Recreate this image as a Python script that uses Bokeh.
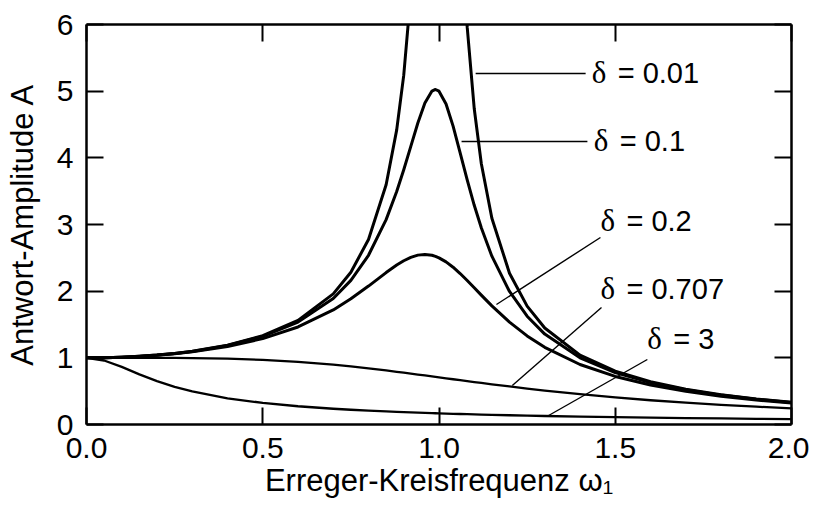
from bokeh.plotting import figure
from bokeh.models import (LinearAxis, FixedTicker, PrintfTickFormatter,
                          ColumnDataSource, Range1d)
from bokeh.core.properties import value
from bokeh.embed import file_html
from bokeh.resources import INLINE

# ---------------- data ----------------
omega = [0, 0.05, 0.1, 0.15, 0.2, 0.25, 0.3, 0.4, 0.5, 0.6, 0.7, 0.75, 0.8, 0.85,
         0.88, 0.9, 0.92, 0.94, 0.96, 0.98, 0.99, 1.0, 1.02, 1.04, 1.06, 1.08,
         1.1, 1.12, 1.15, 1.2, 1.25, 1.3, 1.4, 1.5, 1.6, 1.7, 1.8, 1.9, 2.0]

amp_d001 = [1.0, 1.0025, 1.0101, 1.0230, 1.0417, 1.0667, 1.0989, 1.1905, 1.3333,
            1.5625, 1.9600, 2.2843, 2.775, 3.5967, 4.419, 5.24, 6.46, 8.48, 12.39,
            22.6, 35.6, 50.0, 22.1, 11.87, 7.97, 5.96, 4.736, 3.9158, 3.0928,
            2.2694, 1.7760, 1.4482, 1.0413, 0.7998, 0.6410, 0.5291, 0.4464,
            0.3831, 0.3333]
amp_d01 = [1.0, 1.0025, 1.0099, 1.0225, 1.0408, 1.0652, 1.0965, 1.1851, 1.3216,
           1.5357, 1.8908, 2.1622, 2.5384, 3.0728, 3.4949, 3.8208, 4.1721, 4.5225,
           4.8218, 5.0010, 5.0252, 5.0, 4.8086, 4.4756, 4.0750, 3.6676, 3.2880,
           2.9502, 2.5245, 1.9952, 1.6246, 1.3562, 1.0, 0.7779, 0.6279, 0.5207,
           0.4408, 0.3791, 0.3304]
amp_d02 = [1.0, 1.0023, 1.0093, 1.0211, 1.0381, 1.0607, 1.0895, 1.1695, 1.2883,
           1.4630, 1.7188, 1.8851, 2.0762, 2.2786, 2.3918, 2.4566, 2.5077, 2.5406,
           2.5515, 2.5381, 2.5221, 2.5, 2.4391, 2.3589, 2.2642, 2.1601, 2.0511,
           1.9410, 1.7800, 1.5357, 1.3287, 1.1574, 0.8998, 0.7212, 0.5931, 0.4979,
           0.4250, 0.3679, 0.3221]
amp_d0707 = [1.0, 1.0, 0.99995, 0.99975, 0.9992, 0.9981, 0.9960, 0.9875, 0.9701,
             0.9409, 0.8980, 0.8716, 0.8423, 0.8107, 0.7906, 0.7771, 0.7630,
             0.7494, 0.7353, 0.7213, 0.7142, 0.7071, 0.6930, 0.6789, 0.6648,
             0.6509, 0.6370, 0.6234, 0.6031, 0.5704, 0.5391, 0.5092, 0.4545,
             0.4061, 0.3638, 0.3270, 0.2949, 0.2670, 0.2425]
amp_d3 = [1.0, 0.9600, 0.8638, 0.7526, 0.6507, 0.5653, 0.4958, 0.3933, 0.3234,
          0.2735, 0.2364, 0.2212, 0.2078, 0.1958, 0.1892, 0.1851, 0.1811, 0.1773,
          0.1736, 0.1701, 0.1684, 0.1667, 0.1634, 0.1602, 0.1572, 0.1543, 0.1514,
          0.1487, 0.1448, 0.1386, 0.1330, 0.1277, 0.1183, 0.1101, 0.1028, 0.0964,
          0.0907, 0.0855, 0.0808]

curve_labels = ["0.01", "0.1", "0.2", "0.707", "3"]

x_ticks = [0, 0.5, 1.0, 1.5, 2.0]
y_ticks = [0, 1, 2, 3, 4, 5, 6]

x_title = "Erreger-Kreisfrequenz ω₁"
y_title = "Antwort-Amplitude A"

# ---------------- figure ----------------
SANS = "Liberation Sans"
SERIF = "Liberation Serif"

p = figure(frame_width=705, frame_height=400,
           x_range=Range1d(0, 2), y_range=Range1d(0, 6),
           output_backend="svg", toolbar_location=None,
           x_axis_location=None, y_axis_location=None)
p.min_border_left = 86
p.min_border_right = 18
p.min_border_top = 24
p.min_border_bottom = 88
p.outline_line_color = None
p.xgrid.visible = False
p.ygrid.visible = False
p.background_fill_color = "white"
p.border_fill_color = "white"


def make_axis(ticks, show_labels, fmt=None):
    ax = LinearAxis(ticker=FixedTicker(ticks=ticks))
    if fmt:
        ax.formatter = PrintfTickFormatter(format=fmt)
    ax.axis_line_color = "black"
    ax.axis_line_width = 2.5
    ax.major_tick_line_color = "black"
    ax.major_tick_line_width = 2
    ax.major_tick_in = 17
    ax.major_tick_out = 0
    ax.minor_tick_line_color = None
    ax.major_label_text_font = SANS
    if show_labels:
        ax.major_label_text_font_size = "30px"
        ax.major_label_text_color = "black"
        ax.major_label_standoff = 13
    else:
        ax.major_label_text_font_size = "0px"
        ax.major_label_text_color = None
        ax.major_label_standoff = 0
    return ax


xa = make_axis(x_ticks, True, "%.1f")
xa.axis_label = x_title
xa.axis_label_text_font = SANS
xa.axis_label_text_font_size = "31px"
xa.axis_label_text_font_style = "normal"
xa.axis_label_text_color = "black"
xa.axis_label_standoff = 2
p.add_layout(xa, "below")

ya = make_axis(y_ticks, True, "%d")
ya.axis_label = y_title
ya.axis_label_text_font = SANS
ya.axis_label_text_font_size = "31px"
ya.axis_label_text_font_style = "normal"
ya.axis_label_text_color = "black"
ya.axis_label_standoff = 14
p.add_layout(ya, "left")

p.add_layout(make_axis(x_ticks, False), "above")
p.add_layout(make_axis(y_ticks, False), "right")

# curves
series = [(amp_d001, 3.0), (amp_d01, 3.0), (amp_d02, 3.0), (amp_d0707, 2.3), (amp_d3, 2.3)]
for amps, lw in series:
    src = ColumnDataSource(dict(x=omega, y=amps))
    p.line("x", "y", source=src, line_color="black", line_width=lw,
           line_join="round")

# leader lines (annotation layout)
lead_x0 = [1.104, 1.064, 1.163, 1.208, 1.311]
lead_y0 = [5.265, 4.245, 1.80, 0.585, 0.135]
lead_x1 = [1.416, 1.421, 1.458, 1.461, 1.591]
lead_y1 = [5.265, 4.245, 2.805, 1.755, 0.975]
p.segment(x0=lead_x0, y0=lead_y0, x1=lead_x1, y1=lead_y1,
          line_color="black", line_width=1.4)

# curve labels (annotation layout)
lab_x = [1.433, 1.439, 1.458, 1.458, 1.591]
lab_y = [5.28, 4.26, 3.06, 2.04, 1.29]
p.text(x=lab_x, y=lab_y, text=["δ"] * len(lab_x),
       text_font=value(SERIF), text_font_size="31px",
       text_baseline="middle", text_align="left", text_color="black")
p.text(x=lab_x, y=lab_y, text=["= " + s for s in curve_labels],
       x_offset=26, text_font=value(SANS), text_font_size="29px",
       text_baseline="middle", text_align="left", text_color="black")

open("out.html", "w").write(file_html(p, INLINE))
